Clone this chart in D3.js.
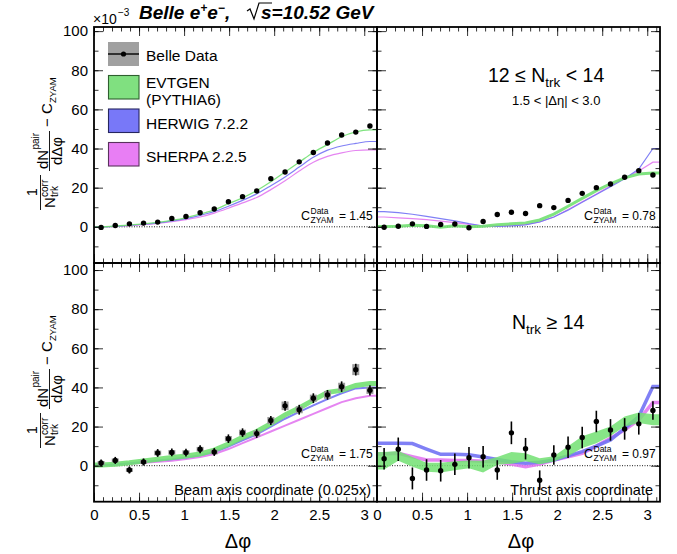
<!DOCTYPE html>
<html>
<head>
<meta charset="utf-8">
<script src="https://cdn.jsdelivr.net/npm/d3@7"></script>
<style>
body { margin: 0; background: #fff; }
text { font-family: "Liberation Sans", Arial, sans-serif; }
</style>
</head>
<body>
<svg id="chart" width="677" height="554"></svg>
<script>
// bin centres in delta phi
var dphi = [0.079, 0.236, 0.393, 0.550, 0.707, 0.864, 1.021, 1.178, 1.335, 1.492,
            1.649, 1.806, 1.963, 2.121, 2.278, 2.435, 2.592, 2.749, 2.906, 3.063];

var xTicks = [0, 0.5, 1, 1.5, 2, 2.5, 3];
var yTicks = [0, 20, 40, 60, 80, 100];
var legendNames = ["Belle Data", "EVTGEN", "(PYTHIA6)", "HERWIG 7.2.2", "SHERPA 2.2.5"];

// top left: beam axis, 12 <= Ntrk < 14
var tlData   = [-0.3, 0.7, 1.5, 1.9, 2.4, 4.3, 5.3, 7.2, 9.1, 12.8, 15.4, 18.3, 24.6, 28.0, 33.2, 38.0, 42.8, 46.9, 48.4, 51.5];
var tlEvtgen = [0, 0.4, 0.9, 1.5, 2.3, 3.3, 4.6, 6.5, 8.6, 11.8, 14.8, 18.5, 23.0, 28.0, 33.0, 38.0, 42.0, 46.0, 48.5, 49.5];
var tlHerwig = [0, 0.3, 0.8, 1.3, 2.0, 3.0, 4.2, 5.8, 7.8, 10.5, 13.5, 16.8, 21.0, 25.5, 30.5, 35.5, 39.2, 41.3, 42.6, 43.6];
var tlSherpa = [0, 0.2, 0.6, 1.1, 1.7, 2.6, 3.7, 5.0, 7.0, 9.5, 12.2, 15.0, 19.0, 23.5, 28.5, 33.0, 36.0, 37.8, 39.0, 39.3];

// top right: thrust axis, 12 <= Ntrk < 14
var trData   = [-0.2, 0.3, 1.5, 0.2, 1.2, 1.4, -0.5, 2.7, 6.3, 7.4, 6.8, 10.8, 9.8, 13.5, 17.1, 20.0, 21.9, 25.3, 28.7, 26.5];
var trEvtgen = [0.2, 0.3, 0.8, 0.5, -0.2, 0.5, 0.0, 0.3, 1.0, 1.5, 2.0, 3.5, 6.5, 10.5, 14.5, 18.5, 22.0, 25.0, 27.0, 27.5];
var trHerwig = [7.8, 7.2, 6.4, 5.3, 4.2, 3.0, 1.6, 0.4, 0.2, 0.5, 1.0, 2.5, 5.0, 8.5, 12.5, 16.5, 20.5, 24.5, 29.5, 40.0];
var trSherpa = [5.0, 4.6, 4.2, 3.7, 2.9, 2.1, 1.2, 0.4, 0.3, 0.8, 1.2, 2.5, 5.0, 8.8, 12.8, 16.8, 21.0, 25.0, 28.5, 33.0];

// bottom left: beam axis, Ntrk >= 14
var blData   = [1.4, 2.7, -2.2, 1.9, 6.5, 6.8, 6.7, 8.4, 7.0, 13.8, 16.9, 16.4, 23.1, 30.6, 28.6, 34.5, 36.2, 40.4, 49.1, 38.5];
var blStat   = [1.8, 1.8, 1.8, 1.8, 2.0, 2.0, 2.0, 2.0, 2.0, 2.2, 2.2, 2.2, 2.3, 2.5, 2.5, 2.5, 2.5, 2.7, 3.0, 2.6];
var blSys    = [1.0, 1.0, 1.0, 1.0, 1.2, 1.2, 1.2, 1.2, 1.2, 1.4, 1.5, 1.5, 1.8, 2.2, 1.8, 1.8, 2.0, 2.0, 2.8, 1.8];
var blEvtgen = [0.3, 0.8, 1.5, 2.4, 3.3, 4.2, 5.0, 6.0, 8.0, 11.0, 14.5, 17.5, 21.5, 26.0, 29.5, 33.5, 37.5, 38.5, 41.0, 42.0];
var blHerwig = [0.2, 0.6, 1.2, 1.9, 2.6, 3.3, 4.2, 5.3, 7.0, 9.8, 13.0, 16.0, 20.0, 24.0, 27.5, 30.8, 34.0, 37.0, 39.5, 40.0];
var blSherpa = [0.1, 0.5, 1.0, 1.5, 2.0, 2.5, 3.4, 4.5, 6.0, 8.5, 11.5, 14.5, 17.5, 20.5, 23.5, 26.5, 29.5, 32.5, 34.5, 35.8];

// bottom right: thrust axis, Ntrk >= 14
var brData      = [3.6, 8.4, -6.5, -2.2, -2.6, 0.7, 4.1, 4.6, -2.2, 16.8, 8.7, -7.4, 5.5, 9.4, 14.4, 22.6, 18.3, 18.8, 21.4, 28.2];
var brStat      = [5.5, 6.0, 5.6, 5.5, 5.5, 5.5, 5.5, 5.5, 5.0, 5.8, 5.5, 5.0, 5.0, 5.5, 5.5, 5.5, 5.5, 5.5, 5.5, 4.7];
var brEvtgen    = [2.5, 5.0, 2.0, -0.8, -1.0, 0.0, 0.7, -0.5, 2.5, 4.0, 4.3, 2.3, 3.5, 7.4, 12.0, 14.5, 17.6, 22.6, 24.5, 23.5];
var brEvtgenErr = [4.5, 2.5, 2.5, 2.3, 2.5, 2.3, 2.0, 3.0, 2.0, 3.0, 2.0, 1.5, 1.3, 2.6, 3.0, 3.0, 2.4, 2.6, 2.7, 2.8];
var brHerwig    = [11.5, 11.5, 11.3, 8.5, 5.8, 5.8, 5.6, 4.5, 3.2, 2.0, 1.2, 1.8, 2.9, 5.0, 7.2, 10.0, 13.2, 19.1, 25.1, 40.5];
var brSherpa    = [6.0, 6.3, 4.6, 2.9, 2.9, 2.7, 2.6, 2.3, 2.0, 0.8, -0.5, 0.8, 2.9, 4.5, 6.3, 10.0, 14.0, 18.3, 23.4, 32.3];

var czyam = ["1.45", "0.78", "1.75", "0.97"];

var cGreen = "#72e072", cBlue = "#7272f4", cMag = "#e278ef";

var svg = d3.select("#chart");
var cols = [[94, 377], [377, 660]];
var rows = [{y0: 27, y1: 263, dom: [-18.5, 102.1]},
            {y0: 263, y1: 501.7, dom: [-18.4, 103.6]}];

var panels = [
  {col: 0, row: 0, data: tlData, smooth: true,
   mc: [{v: tlSherpa, c: cMag, w: 1.2}, {v: tlHerwig, c: cBlue, w: 1.2}, {v: tlEvtgen, c: cGreen, w: 1.3}]},
  {col: 1, row: 0, data: trData,
   mc: [{v: trSherpa, c: cMag, w: 1.2}, {v: trHerwig, c: cBlue, w: 1.2}, {v: trEvtgen, c: cGreen, w: 3}]},
  {col: 0, row: 1, data: blData, stat: blStat, sys: blSys,
   mc: [{v: blSherpa, c: cMag, w: 2}, {v: blHerwig, c: cBlue, w: 2}, {v: blEvtgen, c: cGreen, w: 5}]},
  {col: 1, row: 1, data: brData, stat: brStat,
   mc: [{v: brSherpa, c: cMag, w: 3.5}, {v: brHerwig, c: cBlue, w: 3.5}, {v: brEvtgen, e: brEvtgenErr, c: cGreen}]}
];

var font = "Liberation Sans, Arial, sans-serif";

panels.forEach(function(p, pi) {
  var r = rows[p.row];
  var x = d3.scaleLinear().domain([0, Math.PI]).range(cols[p.col]);
  var y = d3.scaleLinear().domain(r.dom).range([r.y1, r.y0]);
  var g = svg.append("g");

  // zero line
  g.append("line")
    .attr("x1", x(0)).attr("x2", x(Math.PI))
    .attr("y1", y(0)).attr("y2", y(0))
    .attr("stroke", "#000").attr("stroke-width", 0.9)
    .attr("stroke-dasharray", "1,1.5");

  // mc curves, flat over first and last half bin
  p.mc.forEach(function(s) {
    var pts = [{x: 0, v: s.v[0], e: s.e ? s.e[0] : 0}];
    dphi.forEach(function(d, i) { pts.push({x: d, v: s.v[i], e: s.e ? s.e[i] : 0}); });
    pts.push({x: Math.PI, v: s.v[19], e: s.e ? s.e[19] : 0});
    if (s.e) {
      var area = d3.area()
        .x(function(d) { return x(d.x); })
        .y0(function(d) { return y(d.v - d.e); })
        .y1(function(d) { return y(d.v + d.e); });
      g.append("path").attr("d", area(pts))
        .attr("fill", s.c).attr("fill-opacity", 0.85);
    } else {
      var line = d3.line()
        .x(function(d) { return x(d.x); })
        .y(function(d) { return y(d.v); });
      if (p.smooth) line.curve(d3.curveMonotoneX);
      g.append("path").attr("d", line(pts))
        .attr("fill", "none").attr("stroke", s.c)
        .attr("stroke-width", s.w).attr("stroke-opacity", 0.9);
    }
  });

  // systematic boxes
  if (p.sys) {
    g.selectAll(".sys").data(p.data).enter().append("rect")
      .attr("x", function(d, i) { return x(dphi[i]) - 3.5; })
      .attr("width", 7)
      .attr("y", function(d, i) { return y(d + p.sys[i]); })
      .attr("height", function(d, i) { return y(d - p.sys[i]) - y(d + p.sys[i]); })
      .attr("fill", "#9a9a9a");
  }
  if (p.stat) {
    g.selectAll(".err").data(p.data).enter().append("line")
      .attr("x1", function(d, i) { return x(dphi[i]); })
      .attr("x2", function(d, i) { return x(dphi[i]); })
      .attr("y1", function(d, i) { return y(d - p.stat[i]); })
      .attr("y2", function(d, i) { return y(d + p.stat[i]); })
      .attr("stroke", "#000").attr("stroke-width", 1.6);
  }
  g.selectAll(".pt").data(p.data).enter().append("circle")
    .attr("cx", function(d, i) { return x(dphi[i]); })
    .attr("cy", function(d) { return y(d); })
    .attr("r", 2.7).attr("fill", "#000");

  // axes with inward ticks
  var xMinor = d3.range(0, 3.15, 0.1);
  var yMinor = d3.range(-10, 101, 10);
  var bot = g.append("g").attr("transform", "translate(0," + r.y1 + ")")
    .call(d3.axisBottom(x).tickValues(xTicks).tickSize(-9).tickPadding(8)
      .tickFormat(p.row == 1 ? function(d) { return d; } : ""));
  g.append("g").attr("transform", "translate(0," + r.y1 + ")")
    .call(d3.axisBottom(x).tickValues(xMinor).tickSize(-4.5).tickFormat(""));
  g.append("g").attr("transform", "translate(0," + r.y0 + ")")
    .call(d3.axisTop(x).tickValues(xTicks).tickSize(-9).tickFormat(""));
  g.append("g").attr("transform", "translate(0," + r.y0 + ")")
    .call(d3.axisTop(x).tickValues(xMinor).tickSize(-4.5).tickFormat(""));
  var left = g.append("g").attr("transform", "translate(" + cols[p.col][0] + ",0)")
    .call(d3.axisLeft(y).tickValues(yTicks).tickSize(-9).tickPadding(6)
      .tickFormat(p.col == 0 ? function(d) { return d; } : ""));
  g.append("g").attr("transform", "translate(" + cols[p.col][0] + ",0)")
    .call(d3.axisLeft(y).tickValues(yMinor).tickSize(-4.5).tickFormat(""));
  g.append("g").attr("transform", "translate(" + cols[p.col][1] + ",0)")
    .call(d3.axisRight(y).tickValues(yTicks).tickSize(-9).tickFormat(""));
  g.append("g").attr("transform", "translate(" + cols[p.col][1] + ",0)")
    .call(d3.axisRight(y).tickValues(yMinor).tickSize(-4.5).tickFormat(""));
  g.selectAll(".domain").remove();
  g.selectAll(".tick line").attr("stroke-width", 0.8);
  bot.selectAll("text").attr("font-size", 15).attr("font-family", font).attr("fill", "#000");
  left.selectAll("text").attr("font-size", 15).attr("font-family", font).attr("fill", "#000");

  // frame
  g.append("rect")
    .attr("x", cols[p.col][0]).attr("y", r.y0)
    .attr("width", cols[p.col][1] - cols[p.col][0]).attr("height", r.y1 - r.y0)
    .attr("fill", "none").attr("stroke", "#000").attr("stroke-width", 1.8);

  // C_ZYAM label
  var cx = cols[p.col][0] + 207, cy = r.y0 + 193 + p.row * 2;
  g.append("text").attr("x", cx).attr("y", cy).attr("font-size", 12.5).text("C");
  g.append("text").attr("x", cx + 9.5).attr("y", cy - 6.5).attr("font-size", 8.5).text("Data");
  g.append("text").attr("x", cx + 9.5).attr("y", cy + 3).attr("font-size", 8.5).text("ZYAM");
  g.append("text").attr("x", cx + 38).attr("y", cy).attr("font-size", 12).text("= " + czyam[pi]);
});

// x axis titles
[238, 521].forEach(function(xx) {
  svg.append("text").attr("x", xx).attr("y", 548).attr("text-anchor", "middle")
    .attr("font-family", "Liberation Serif, Times New Roman, serif").attr("font-size", 20)
    .text("Δφ");
});

// y axis titles
function yTitle(cy) {
  var t = svg.append("g").attr("transform", "translate(52," + cy + ") rotate(-90)");
  // 1 / N^corr_trk
  t.append("text").attr("x", -47).attr("y", -15).attr("text-anchor", "middle").attr("font-size", 14).text("1");
  t.append("line").attr("x1", -65).attr("x2", -30).attr("y1", -11.5).attr("y2", -11.5)
    .attr("stroke", "#000").attr("stroke-width", 0.9);
  t.append("text").attr("x", -63).attr("y", 3).attr("font-size", 15).text("N");
  t.append("text").attr("x", -52).attr("y", -4.5).attr("font-size", 10).text("corr");
  t.append("text").attr("x", -52).attr("y", 6).attr("font-size", 10).text("trk");
  // dN^pair / dDphi
  t.append("text").attr("x", -24).attr("y", -4.5).attr("font-size", 15).text("dN");
  t.append("text").attr("x", -4.5).attr("y", -13).attr("font-size", 10).text("pair");
  t.append("line").attr("x1", -26).attr("x2", 14).attr("y1", -2.5).attr("y2", -2.5)
    .attr("stroke", "#000").attr("stroke-width", 0.9);
  t.append("text").attr("x", -6).attr("y", 9.5).attr("text-anchor", "middle").attr("font-size", 15).text("dΔφ");
  // - C_ZYAM
  t.append("text").attr("x", 18).attr("y", 0).attr("font-size", 15).text("− C");
  t.append("text").attr("x", 42).attr("y", 3.5).attr("font-size", 9.5).text("ZYAM");
}
yTitle(145);
yTitle(383);

// title and exponent
svg.append("text").attr("x", 93).attr("y", 24).attr("font-size", 14).text("×10");
svg.append("text").attr("x", 118).attr("y", 16).attr("font-size", 10).text("−3");

var title = svg.append("text").attr("x", 139).attr("y", 19)
  .attr("font-size", 19).attr("font-weight", "bold").attr("font-style", "italic");
title.append("tspan").text("Belle e");
title.append("tspan").attr("font-size", 12).attr("dy", -7).text("+");
title.append("tspan").attr("dy", 7).text("e");
title.append("tspan").attr("font-size", 12).attr("dy", -7).text("−");
title.append("tspan").attr("dy", 7).text(",");
svg.append("path").attr("d", "M247,11 L250,9 L254,19 L259,3 L272,3")
  .attr("fill", "none").attr("stroke", "#000").attr("stroke-width", 1.2);
svg.append("text").attr("x", 261).attr("y", 19)
  .attr("font-size", 19).attr("font-weight", "bold").attr("font-style", "italic")
  .text("s=10.52 GeV");

// legend
var lx = 108;
svg.append("rect").attr("x", lx).attr("y", 42).attr("width", 31).attr("height", 24).attr("fill", "#a0a0a0");
svg.append("line").attr("x1", lx).attr("x2", lx + 31).attr("y1", 54).attr("y2", 54)
  .attr("stroke", "#000").attr("stroke-width", 1.4);
svg.append("circle").attr("cx", lx + 15.5).attr("cy", 54).attr("r", 2.6).attr("fill", "#000");
var boxes = [{y: 75.5, c: "#80e080", s: "#2f5f2f"}, {y: 109, c: "#7878f8", s: "#262660"},
             {y: 142.5, c: "#e87ef4", s: "#5a325e"}];
boxes.forEach(function(b) {
  svg.append("rect").attr("x", lx + 0.5).attr("y", b.y).attr("width", 30.5).attr("height", 23.5)
    .attr("fill", b.c).attr("stroke", b.s).attr("stroke-width", 1.1);
});
var legY = [60.5, 87.5, 105, 128.5, 161.5];
legendNames.forEach(function(n, i) {
  svg.append("text").attr("x", 146).attr("y", legY[i]).attr("font-size", 15.5).text(n);
});

// panel texts
var t1 = svg.append("text").attr("x", 488).attr("y", 82).attr("font-size", 19.5);
t1.append("tspan").text("12 ≤ N");
t1.append("tspan").attr("font-size", 13.5).attr("dy", 5).text("trk");
t1.append("tspan").attr("dy", -5).text(" < 14");
svg.append("text").attr("x", 512).attr("y", 104.5).attr("font-size", 13).text("1.5 < |Δη| < 3.0");

var t2 = svg.append("text").attr("x", 512).attr("y", 329).attr("font-size", 19.5);
t2.append("tspan").text("N");
t2.append("tspan").attr("font-size", 13.5).attr("dy", 5).text("trk");
t2.append("tspan").attr("dy", -5).text(" ≥ 14");

svg.append("text").attr("x", 371).attr("y", 495).attr("text-anchor", "end").attr("font-size", 14.5)
  .text("Beam axis coordinate (0.025x)");
svg.append("text").attr("x", 653).attr("y", 495).attr("text-anchor", "end").attr("font-size", 14.5)
  .text("Thrust axis coordinate");
</script>
</body>
</html>
